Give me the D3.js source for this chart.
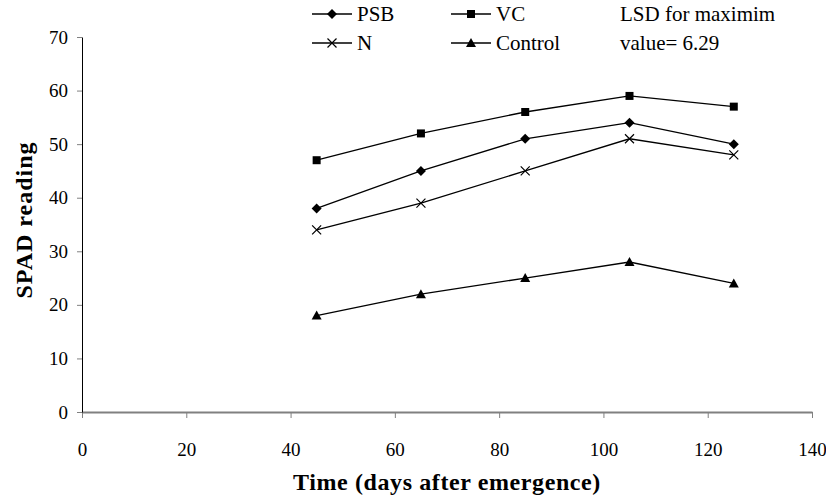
<!DOCTYPE html>
<html>
<head>
<meta charset="utf-8">
<script src="https://d3js.org/d3.v7.min.js"></script>
<style>
body{margin:0;background:#fff;}
svg text{font-family:"Liberation Serif","Times New Roman",Times,serif !important;fill:#000;}
</style>
</head>
<body>
<script>
//data
const days=[45,65,85,105,125];
const psb=[38,45,51,54,50];
const vc=[47,52,56,59,57];
const nTreat=[34,39,45,51,48];
const control=[18,22,25,28,24];
const xTicks=[0,20,40,60,80,100,120,140];
const yTicks=[0,10,20,30,40,50,60,70];

const series=[
  {name:"PSB",values:psb,marker:"diamond"},
  {name:"VC",values:vc,marker:"square"},
  {name:"N",values:nTreat,marker:"cross"},
  {name:"Control",values:control,marker:"triangle"}
];

//constants
const w=826,h=497;
const mLeft=82,mRight=812,mTop=37,mBottom=412;

const svg=d3.select("body").append("svg").attr("width",w).attr("height",h);

const x=d3.scaleLinear().domain([0,140]).range([mLeft,mRight]);
const y=d3.scaleLinear().domain([0,70]).range([mBottom,mTop]);

//axes
svg.append("g")
  .attr("transform","translate(0,"+mBottom+")")
  .call(d3.axisBottom(x).tickValues(xTicks).tickSize(6).tickSizeOuter(0))
  .call(g=>{
    g.select(".domain").attr("stroke","#808080").attr("stroke-width",2);
    g.selectAll(".tick line").attr("stroke","#808080");
    g.selectAll(".tick text").attr("font-size",19).attr("y",44).attr("dy",0);
  });

svg.append("g")
  .attr("transform","translate("+mLeft+",0)")
  .call(d3.axisLeft(y).tickValues(yTicks).tickSize(5).tickSizeOuter(0))
  .call(g=>{
    g.select(".domain").attr("stroke","#000").attr("stroke-width",1);
    g.selectAll(".tick line").attr("stroke","#808080");
    g.selectAll(".tick text").attr("font-size",19).attr("x",-14);
  });

//axis titles
svg.append("text")
  .attr("x",(mLeft+mRight)/2).attr("y",490)
  .attr("text-anchor","middle")
  .attr("font-size",24).attr("font-weight","bold").attr("letter-spacing",0.6)
  .text("Time (days after emergence)");

svg.append("text")
  .attr("transform","translate(32,220) rotate(-90)")
  .attr("text-anchor","middle")
  .attr("font-size",24).attr("font-weight","bold").attr("letter-spacing",1)
  .text("SPAD reading");

//markers
function drawMarker(g,type,cx,cy){
  if(type==="diamond"){
    g.append("path").attr("d","M0,-5L5,0L0,5L-5,0Z")
      .attr("transform","translate("+cx+","+cy+")").attr("fill","#000");
  }else if(type==="square"){
    g.append("rect").attr("x",cx-4).attr("y",cy-4).attr("width",8).attr("height",8).attr("fill","#000");
  }else if(type==="triangle"){
    g.append("path").attr("d","M0,-5L5,4L-5,4Z")
      .attr("transform","translate("+cx+","+cy+")").attr("fill","#000");
  }else{
    g.append("path").attr("d","M-4.5,-4.5L4.5,4.5M-4.5,4.5L4.5,-4.5")
      .attr("transform","translate("+cx+","+cy+")").attr("stroke","#000").attr("stroke-width",1.2).attr("fill","none");
  }
}

const line=d3.line().x((d,i)=>x(days[i])).y(d=>y(d));

series.forEach(s=>{
  const g=svg.append("g");
  g.append("path").datum(s.values).attr("d",line)
    .attr("fill","none").attr("stroke","#000").attr("stroke-width",1.3);
  s.values.forEach((v,i)=>drawMarker(g,s.marker,x(days[i]),y(v)));
});

//legend
const legendPos=[[312,14],[451,14],[312,43],[451,43]];
series.forEach((s,i)=>{
  const [lx,ly]=legendPos[i];
  const g=svg.append("g");
  g.append("line").attr("x1",lx).attr("x2",lx+40).attr("y1",ly).attr("y2",ly)
    .attr("stroke","#000").attr("stroke-width",1.3);
  drawMarker(g,s.marker,lx+20,ly);
  g.append("text").attr("x",lx+45).attr("y",ly+7).attr("font-size",21).text(s.name);
});

svg.append("text").attr("x",620).attr("y",21).attr("font-size",21).text("LSD for maximim");
svg.append("text").attr("x",620).attr("y",50).attr("font-size",21).text("value= 6.29");
</script>
</body>
</html>
